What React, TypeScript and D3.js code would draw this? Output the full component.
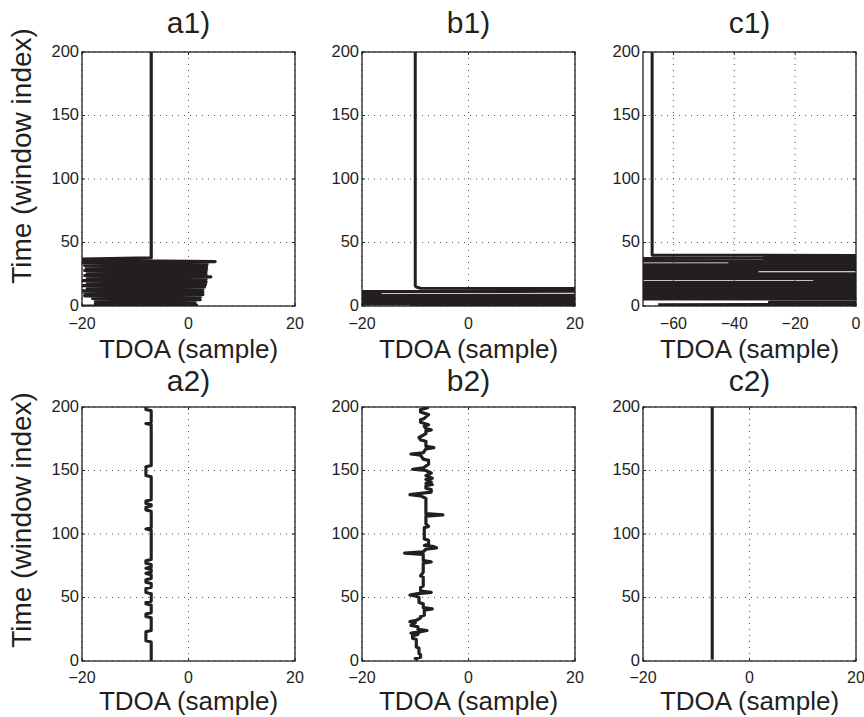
import React from "react";
import * as d3 from "d3";

type P = [number, number]; // [window index, TDOA]

const yTicks = [0, 50, 100, 150, 200];
const xTicksAB = [-20, 0, 20];
const xTicksC = [-60, -40, -20, 0];
const titles = ["a1)", "b1)", "c1)", "a2)", "b2)", "c2)"];
const xLabel = "TDOA (sample)";
const yLabel = "Time (window index)";

const a1: P[] = [
  [0, -20], [1, 1.5], [2, -17.5], [3, 1.2], [4, -17.5], [5, 2.2], [6, -18], [7, 2.2],
  [8, -19.5], [9, 2.7], [10, -19.5], [11, 2.7], [12, -20], [13, 2.7], [14, -19], [15, 3.0],
  [16, -20], [17, 3.2], [18, -19], [19, 3.3], [20, -20], [21, 3.3], [22, -19], [23, 4.2],
  [24, -19.5], [25, 3.3], [26, -19], [27, 3.3], [28, -19.5], [29, 3.4], [30, -19.2], [31, 3.4],
  [32, -19.5], [33, 3.5], [34, -20], [35, 5], [36, -20], [37, -20], [38, -7], [200, -7],
];

const b1: P[] = [
  [0, -11], [1, 300], [2, -300], [3, 300], [4, 300], [5, -300], [6, 300], [7, -300],
  [8, 300], [9, -300], [10, -16.6], [11, -300], [12, 300], [13, 100], [14, -9], [15, -9.8],
  [16, -10], [200, -10],
];

const c1: P[] = [
  [1, -65], [2, 300], [3, -28.5], [4, 300], [5, 300], [6, -400], [7, 300], [8, -400],
  [9, 300], [10, -400], [11, 300], [12, -400], [13, 300], [14, -400], [15, 300], [16, -400],
  [17, 300], [18, -400], [19, 300], [20, -13.6], [21, 300], [22, -400], [23, 300], [24, -400],
  [25, 300], [26, -400], [27, -32.5], [28, -400], [29, 300], [30, -400], [31, 300], [32, -400],
  [33, 300], [34, -41.5], [35, 300], [36, -400], [37, -400], [38, 300], [39, 300], [40, -67],
  [200, -67],
];

const a2: P[] = [
  [0, -7], [15, -7], [16, -8], [23, -8], [24, -7], [34, -7], [35, -8], [37, -8], [38, -7],
  [44, -7], [45, -8], [46, -8], [47, -7], [53, -7], [54, -8], [57, -8], [58, -7], [61, -7],
  [62, -8], [64, -8], [65, -7], [68, -7], [69, -8], [70, -7], [72, -7], [73, -8], [74, -7],
  [76, -7], [77, -8], [79, -8], [80, -7], [103, -7], [104, -8], [105, -7], [118, -7], [119, -8],
  [121, -8], [122, -7], [123, -7], [124, -8], [126, -8], [127, -7], [145, -7], [146, -8],
  [153, -8], [154, -7], [186, -7], [187, -8], [188, -7], [197, -7], [198, -8], [200, -8],
];

const b2: P[] = [
  [1, -9.5], [2, -10], [3, -9], [5, -9], [6, -9.3], [10, -9.3], [11, -9.8], [17, -9.8],
  [18, -10.5], [20, -10.5], [21, -9.5], [22, -10.8], [23, -9], [24, -7.8], [25, -9.5],
  [27, -9.5], [28, -10.8], [30, -10], [31, -11], [32, -9.8], [34, -9], [35, -9], [36, -8.3],
  [40, -8.3], [41, -6.8], [42, -8.5], [45, -8.5], [46, -9.3], [50, -9.3], [51, -9.8],
  [52, -11], [53, -9.5], [54, -7], [55, -9], [58, -9], [59, -8.5], [66, -8.5], [67, -9],
  [70, -8.5], [77, -8.5], [78, -7], [79, -8.5], [84, -8.5], [85, -12], [86, -8.5], [88, -8],
  [89, -6], [90, -6.5], [91, -8.3], [92, -7.5], [95, -7.5], [96, -8.3], [105, -8.3],
  [106, -7.5], [108, -8], [114, -8], [115, -4.8], [116, -8], [128, -8], [129, -8.5],
  [130, -9], [131, -11], [132, -9], [133, -7], [135, -7], [136, -8], [138, -8], [139, -6.8],
  [140, -8], [141, -7], [143, -8], [144, -6.8], [146, -8], [148, -7], [150, -8], [151, -10.5],
  [152, -8.5], [155, -7.5], [158, -7.5], [159, -8.5], [162, -9], [163, -10.8], [164, -8.5],
  [167, -8], [168, -6.5], [169, -8], [173, -8], [174, -9], [176, -9.3], [179, -8], [181, -8],
  [182, -7], [183, -8], [185, -8.3], [186, -7.5], [188, -9], [190, -9], [191, -8.3],
  [193, -7.8], [194, -7.5], [196, -9], [198, -9], [199, -8], [200, -7.5],
];

const c2: P[] = [[1, -7], [200, -7]];

const INK = "#231f20";
const FONT = "'Liberation Sans', Arial, Helvetica, sans-serif";
const W = 213;
const H = 254;

type PanelProps = {
  id: string;
  left: number;
  top: number;
  xDomain: [number, number];
  xTicks: number[];
  data: P[];
  title: string;
  lw: number;
  titleY: number;
  tickOff: number;
  labelOff: number;
};

function Panel({ id, left, top, xDomain, xTicks, data, title, lw, titleY, tickOff, labelOff }: PanelProps) {
  const x = d3.scaleLinear().domain(xDomain).range([left, left + W]);
  const y = d3.scaleLinear().domain([0, 200]).range([top + H, top]);
  const line = d3
    .line<P>()
    .x((d) => x(d[1]))
    .y((d) => y(d[0]));
  const fmt = d3.format("d");
  const tl = 3;
  return (
    <g>
      <defs>
        <clipPath id={id}>
          <rect x={left} y={top} width={W} height={H} />
        </clipPath>
      </defs>
      <rect x={left} y={top} width={W} height={H} fill="#fff" />
      {xTicks.map((t) => (
        <line key={"gx" + t} x1={x(t)} x2={x(t)} y1={top} y2={top + H}
          stroke={INK} strokeWidth={1} strokeDasharray="1,5" opacity={0.75} />
      ))}
      {yTicks.map((t) => (
        <line key={"gy" + t} x1={left} x2={left + W} y1={y(t)} y2={y(t)}
          stroke={INK} strokeWidth={1} strokeDasharray="1,5" opacity={0.75} />
      ))}
      <path d={line(data) || ""} fill="none" stroke={INK} strokeWidth={lw}
        strokeLinejoin="round" strokeLinecap="butt" clipPath={`url(#${id})`} />
      {xTicks.map((t) => (
        <g key={"tx" + t}>
          <line x1={x(t)} x2={x(t)} y1={top + H} y2={top + H - tl} stroke={INK} />
          <line x1={x(t)} x2={x(t)} y1={top} y2={top + tl} stroke={INK} />
          <text x={x(t)} y={top + H + tickOff} textAnchor="middle" fontSize={16}
            fontFamily={FONT} fill={INK}>{fmt(t)}</text>
        </g>
      ))}
      {yTicks.map((t) => (
        <g key={"ty" + t}>
          <line x1={left} x2={left + tl} y1={y(t)} y2={y(t)} stroke={INK} />
          <line x1={left + W} x2={left + W - tl} y1={y(t)} y2={y(t)} stroke={INK} />
          <text x={left - 3} y={y(t)} dy="0.3em" textAnchor="end" fontSize={16.5}
            fontFamily={FONT} fill={INK}>{fmt(t)}</text>
        </g>
      ))}
      <rect x={left} y={top} width={W} height={H} fill="none" stroke={INK} strokeWidth={1.3} />
      <text x={left + W / 2} y={titleY} textAnchor="middle" fontSize={30}
        fontFamily={FONT} fill={INK}>{title}</text>
      <text x={left + W / 2} y={top + H + labelOff} textAnchor="middle" fontSize={26}
        fontFamily={FONT} fill={INK}>{xLabel}</text>
    </g>
  );
}

const lefts = [82, 362, 643];
const tops = [52, 407];
const titleYs = [33, 391];
const tickOffs = [23, 22];
const labelOffs = [52, 49];
const yLabelCenters = [156, 520];

export default function App() {
  const panels = [
    { data: a1, xDomain: [-20, 20] as [number, number], xTicks: xTicksAB, lw: 3.2 },
    { data: b1, xDomain: [-20, 20] as [number, number], xTicks: xTicksAB, lw: 3 },
    { data: c1, xDomain: [-70, 0] as [number, number], xTicks: xTicksC, lw: 3 },
    { data: a2, xDomain: [-20, 20] as [number, number], xTicks: xTicksAB, lw: 3.1 },
    { data: b2, xDomain: [-20, 20] as [number, number], xTicks: xTicksAB, lw: 3.2 },
    { data: c2, xDomain: [-20, 20] as [number, number], xTicks: xTicksAB, lw: 3.1 },
  ];
  return (
    <svg width={864} height={717} style={{ position: "absolute", left: 0, top: 0, background: "#fff" }}>
      <rect width={864} height={717} fill="#fff" />
      {panels.map((p, i) => {
        const r = Math.floor(i / 3);
        return (
          <Panel key={i} id={"clip" + i} left={lefts[i % 3]} top={tops[r]} titleY={titleYs[r]}
            tickOff={tickOffs[r]} labelOff={labelOffs[r]}
            xDomain={p.xDomain} xTicks={p.xTicks} data={p.data} title={titles[i]} lw={p.lw} />
        );
      })}
      {yLabelCenters.map((c, r) => (
        <text key={"yl" + r} transform={`translate(31,${c}) rotate(-90)`}
          textAnchor="middle" fontSize={28} fontFamily={FONT} fill={INK}>{yLabel}</text>
      ))}
    </svg>
  );
}
